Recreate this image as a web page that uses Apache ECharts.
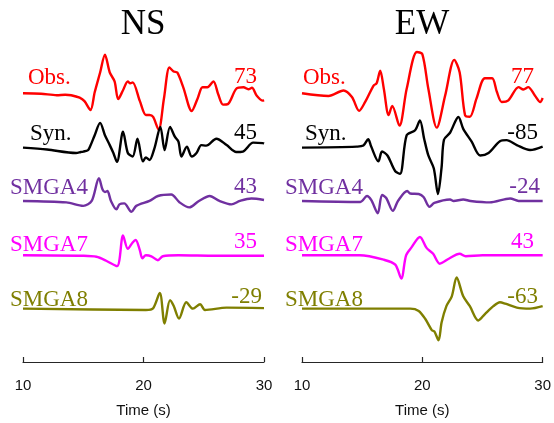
<!DOCTYPE html>
<html>
<head>
<meta charset="utf-8">
<script src="https://cdn.jsdelivr.net/npm/echarts@6/dist/echarts.min.js"></script>
<style>
  html, body { margin: 0; padding: 0; background: #fff; }
  #main { width: 554px; height: 423px; }
</style>
</head>
<body>
<div id="main"></div>
<script>
// waveforms: [time (s), amplitude], amplitude up = positive
var nsObs = [[10,0],[11.5,-0.5],[12.8,-2],[13.5,-1.5],[14.0,-2],[14.7,-4.5],[15.1,-8],[15.6,-17],[15.95,1],[16.4,21],[16.8,39],[17.2,21],[17.6,12],[17.9,-6],[18.3,3],[18.7,12],[18.9,10],[19.1,11],[19.7,-8],[20.2,-22],[20.5,-22],[20.8,-24],[21.25,-37],[21.7,-5],[22.15,26],[22.5,22],[22.8,21],[23.3,6],[24.0,-18],[24.5,-5],[24.9,6],[25.3,6],[25.8,12],[26.2,-1],[26.6,-11.5],[27.0,-11],[27.7,4.5],[28.3,6],[28.7,4],[29.0,5.5],[29.4,-2.5],[29.9,-7.5],[30,-7]];
var nsSyn = [[10,0],[12,-2],[14.4,-5.5],[14.8,-4.5],[15.0,-4],[15.4,-2.5],[15.6,2],[15.95,12.5],[16.4,25],[16.8,12.5],[17.2,2.5],[17.5,-5.5],[17.8,-14.5],[18.3,16],[18.7,-5.5],[19.1,-9],[19.5,9],[19.95,-14],[20.2,-10],[20.5,-12.5],[20.9,-1],[21.4,21],[21.75,-2.5],[22.2,21],[22.6,11],[22.9,6],[23.15,-9],[23.6,1],[24.0,-9],[24.4,-5.5],[24.8,2.5],[25.2,2],[26.05,9],[26.9,2.5],[27.7,-4.5],[28.25,-4],[29.1,5],[29.9,4.5],[30,4]];
var nsS4 = [[10,0],[13.6,-1.5],[15.0,-5],[15.7,0],[16.3,23],[16.6,11.5],[16.8,9],[17.0,10],[17.3,0],[17.75,-8.5],[18.0,-3.5],[18.4,-2.5],[19.0,-11],[19.4,-5],[20.5,0],[21.2,5],[22.3,6.5],[23.0,-1.5],[23.8,-6.5],[24.6,0],[25.5,5],[26.3,0],[27.3,-3.5],[28.0,0],[28.95,2.5],[30,1]];
var nsS7 = [[10,0],[15,-0.5],[16.1,-1.5],[16.9,-5.5],[17.8,-11],[18.3,20],[18.7,6.5],[19.1,13],[19.35,15.5],[19.7,5],[19.9,-3],[20.2,0],[20.65,-1],[21.2,-5],[21.6,-1],[22.9,0],[26,-0.5],[30,-0.5]];
var nsS8 = [[10,0],[20.2,-1.3],[20.8,0.5],[21.35,16],[21.75,-15],[22.2,8.5],[22.5,3],[22.95,-10],[23.55,6.5],[24.1,0],[24.7,4.5],[25.1,-1.3],[26.9,1],[30,0.5]];

var ewObs = [[10,0],[12.2,-2.8],[13.45,2.8],[14.15,-3.8],[14.75,-17.8],[15.25,-8.8],[15.95,7.8],[16.2,10],[16.5,22.8],[16.8,4.5],[17.2,-22],[17.5,-12.8],[18.1,-32.8],[18.7,4.5],[19.55,41.8],[20.0,39.5],[20.5,4.5],[21.2,-34.8],[21.9,-2.2],[22.65,33.8],[23.1,21.2],[23.55,-22.2],[23.95,-23.8],[24.5,-5.5],[25.2,15.2],[25.8,15.2],[26.2,1.2],[26.6,-8.8],[27.15,-7.2],[28.0,6.2],[28.4,3.8],[28.8,6.2],[29.35,-2.2],[29.8,-8.8],[30,-4.8]];
var ewSyn = [[10,0],[14.55,1],[15.1,2],[15.5,8.5],[15.75,1],[16.35,-14],[16.65,-4],[17.1,-8],[17.75,-24],[18.15,-26.5],[18.7,12.5],[19.4,17.5],[19.8,27.5],[20.15,9],[20.5,-8],[20.95,-21],[21.3,-47],[21.6,-20],[21.8,8],[22.3,15],[23.0,31],[23.4,19],[24.1,6],[24.8,-8],[25.5,-5.5],[26.45,6.5],[27.0,7.5],[27.85,2.5],[28.95,-2.5],[30,1]];
var ewS4 = [[10,0],[14.85,-1],[15.4,5],[15.75,1],[16.3,-12.5],[16.65,6],[17.0,3],[17.55,-10],[18.0,0.5],[18.75,10],[19.0,7.5],[19.7,7],[20.1,4],[20.6,-6],[21.0,-2],[22.3,1.5],[22.6,0],[23.4,1.5],[24.0,0],[25.6,-1.5],[27.3,2.5],[28,0],[30,0]];
var ewS7 = [[10,0],[14.8,0],[16.8,-4.5],[17.75,-9.5],[18.25,-23.5],[18.65,0],[19.1,8],[19.8,18.5],[20.35,7.5],[20.9,1.5],[21.45,-8.5],[22.2,-3.5],[23.1,1.5],[23.6,-1],[25,0],[30,0]];
var ewS8 = [[10,0],[19,0],[19.7,-2.3],[20.25,-10.5],[20.8,-22],[21.0,-23],[21.35,-32],[21.6,-14],[22.0,2.5],[22.45,12.5],[22.85,31.5],[23.4,12.5],[23.95,2.5],[24.65,-12],[25.2,-5.5],[25.9,2.5],[26.45,6.5],[26.9,5],[27.85,1],[28.95,0],[30,2.5]];

var traceNames = ['Obs.', 'Syn.', 'SMGA4', 'SMGA7', 'SMGA8'];
var nsPeaks = ['73', '45', '43', '35', '-29'];
var ewPeaks = ['77', '-85', '-24', '43', '-63'];
var traceOffsets = [272, 217, 163, 108, 54];

var colors = ['#ff0000', '#000000', '#7030a0', '#ff00ff', '#7f7f00'];
var serif = "'Liberation Serif', 'Times New Roman', serif";

var chart = echarts.init(document.getElementById('main'), null, { renderer: 'canvas' });

function makeSeries(list, gi) {
  return list.map(function (arr, i) {
    return {
      type: 'line',
      xAxisIndex: gi,
      yAxisIndex: gi,
      data: arr.map(function (p) { return [p[0], traceOffsets[i] + p[1]]; }),
      smooth: 0.3,
      showSymbol: false,
      silent: true,
      animation: false,
      lineStyle: { color: colors[i], width: 2.4 }
    };
  });
}

function xAxisCfg(gi) {
  return {
    gridIndex: gi,
    type: 'value',
    min: 10,
    max: 30,
    interval: 10,
    name: 'Time (s)',
    nameLocation: 'middle',
    nameGap: 41,
    nameTextStyle: { fontFamily: 'Liberation Sans, Arial', fontSize: 15, color: '#111' },
    axisLine: { show: true, lineStyle: { color: '#262626', width: 1.2 } },
    axisTick: { show: true, inside: true, length: 5, lineStyle: { color: '#262626', width: 1.2 } },
    axisLabel: { margin: 16, fontFamily: 'Liberation Sans, Arial', fontSize: 15, color: '#111' },
    splitLine: { show: false }
  };
}

function yAxisCfg(gi) {
  return { gridIndex: gi, type: 'value', min: 0, max: 336, show: false };
}

// label anchors next to each trace
var labelY = [78, 134, 188, 245, 300];
var peakY = [77, 133, 187, 242, 297];
var nameXL = [28, 30, 10, 10, 10];
var nameXR = [303, 305, 285, 285, 285];
var peakXL = [257, 257, 257, 257, 262];
var peakXR = [534, 538, 540, 534, 538];

var graphics = [];
graphics.push({ type: 'text', x: 143, y: 25, style: { text: 'NS', font: '35px ' + serif, fill: '#000', align: 'center', verticalAlign: 'middle' } });
graphics.push({ type: 'text', x: 422, y: 25, style: { text: 'EW', font: '35px ' + serif, fill: '#000', align: 'center', verticalAlign: 'middle' } });
traceNames.forEach(function (n, i) {
  graphics.push({ type: 'text', x: nameXL[i], y: labelY[i], style: { text: n, font: '23px ' + serif, fill: colors[i], align: 'left', verticalAlign: 'middle' } });
  graphics.push({ type: 'text', x: nameXR[i], y: labelY[i], style: { text: n, font: '23px ' + serif, fill: colors[i], align: 'left', verticalAlign: 'middle' } });
  graphics.push({ type: 'text', x: peakXL[i], y: peakY[i], style: { text: nsPeaks[i], font: '23px ' + serif, fill: colors[i], align: 'right', verticalAlign: 'middle' } });
  graphics.push({ type: 'text', x: peakXR[i], y: peakY[i], style: { text: ewPeaks[i], font: '23px ' + serif, fill: colors[i], align: 'right', verticalAlign: 'middle' } });
});

chart.setOption({
  backgroundColor: '#fff',
  animation: false,
  grid: [
    { left: 23, width: 241, top: 30, height: 336 },
    { left: 302, width: 241, top: 30, height: 336 }
  ],
  xAxis: [xAxisCfg(0), xAxisCfg(1)],
  yAxis: [yAxisCfg(0), yAxisCfg(1)],
  series: makeSeries([nsObs, nsSyn, nsS4, nsS7, nsS8], 0)
    .concat(makeSeries([ewObs, ewSyn, ewS4, ewS7, ewS8], 1)),
  graphic: graphics
});
</script>
</body>
</html>
